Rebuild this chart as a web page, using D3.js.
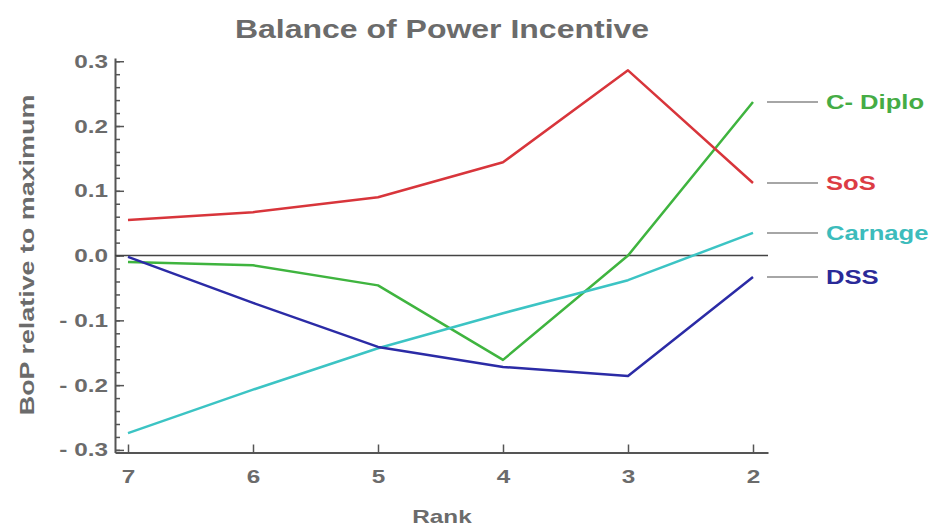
<!DOCTYPE html>
<html>
<head>
<meta charset="utf-8">
<script src="https://cdn.jsdelivr.net/npm/d3@7"></script>
<style>
body { margin: 0; background: #fff; }
text { font-family: "Liberation Sans", Arial, sans-serif; font-weight: bold; }
</style>
</head>
<body>
<div id="chart"></div>
<script>
const ranks = [7, 6, 5, 4, 3, 2]
const sos = [0.055, 0.067, 0.09, 0.144, 0.286, 0.112]
const cDiplo = [-0.01, -0.015, -0.046, -0.161, 0.0, 0.237]
const carnage = [-0.274, -0.207, -0.143, -0.089, -0.038, 0.035]
const dss = [-0.002, -0.073, -0.141, -0.172, -0.186, -0.033]
const seriesNames = ["C- Diplo", "SoS", "Carnage", "DSS"]
const yTicks = [-0.3, -0.2, -0.1, 0, 0.1, 0.2, 0.3]

const width = 932
const height = 530

// the text in the picture is wide, so stretch it sideways
const stretch = 1.28

const series = [
    { name: seriesNames[0], values: cDiplo, color: "#3fb43f", label: "#45ac45" },
    { name: seriesNames[1], values: sos, color: "#d8353b", label: "#dc3c44" },
    { name: seriesNames[2], values: carnage, color: "#3cc4c4", label: "#3cbcbc" },
    { name: seriesNames[3], values: dss, color: "#2b2ba6", label: "#2a2a98" }
]

const svg = d3.select("#chart")
    .append("svg")
    .attr("width", width)
    .attr("height", height)

const x = d3.scaleLinear()
    .domain([7.104, 1.88])
    .range([115, 768])

const y = d3.scaleLinear()
    .domain([-0.304, 0.305])
    .range([452.5, 58])

const axisColor = "#555"
const textColor = "#6b6b6b"

// minor ticks on y
svg.append("g")
    .attr("transform", `translate(${x.range()[0]},0)`)
    .call(d3.axisLeft(y).tickValues(d3.range(-0.3, 0.301, 0.02)).tickSizeInner(-5).tickSizeOuter(0).tickFormat(""))
    .call(g => g.select(".domain").remove())
    .call(g => g.selectAll("line").attr("stroke", axisColor).attr("stroke-width", 1.5))

// y axis
svg.append("g")
    .attr("transform", `translate(${x.range()[0]},0)`)
    .call(d3.axisLeft(y).tickValues(yTicks).tickSizeInner(-9).tickSizeOuter(0).tickPadding(5.5)
        .tickFormat(d => d < -1e-9 ? "- " + Math.abs(d).toFixed(1) : Math.abs(d).toFixed(1)))
    .call(g => g.select(".domain").attr("stroke", axisColor).attr("stroke-width", 2))
    .call(g => g.selectAll("line").attr("stroke", axisColor).attr("stroke-width", 1.5))
    .call(g => g.selectAll("text").attr("fill", textColor).attr("font-size", 19)
        .attr("font-family", "Liberation Sans, Arial, sans-serif").attr("font-weight", "bold")
        .attr("transform", `scale(${stretch},1)`))

// x axis
svg.append("g")
    .attr("transform", `translate(0,${y.range()[0]})`)
    .call(d3.axisBottom(x).tickValues(ranks).tickSizeInner(-8).tickSizeOuter(0).tickPadding(17).tickFormat(d3.format("d")))
    .call(g => g.select(".domain").attr("stroke", axisColor).attr("stroke-width", 2))
    .call(g => g.selectAll("line").attr("stroke", axisColor).attr("stroke-width", 1.5))
    .call(g => g.selectAll("text").attr("fill", textColor).attr("font-size", 19)
        .attr("font-family", "Liberation Sans, Arial, sans-serif").attr("font-weight", "bold")
        .attr("transform", `scale(${stretch},1)`))

// zero line
svg.append("line")
    .attr("x1", x.range()[0])
    .attr("x2", x.range()[1])
    .attr("y1", y(0))
    .attr("y2", y(0))
    .attr("stroke", "#444")
    .attr("stroke-width", 1.5)

const line = d3.line()
    .x((d, i) => x(ranks[i]))
    .y(d => y(d))

svg.selectAll(".series")
    .data(series)
    .enter()
    .append("path")
    .attr("d", d => line(d.values))
    .attr("fill", "none")
    .attr("stroke", d => d.color)
    .attr("stroke-width", 2.5)
    .attr("stroke-linejoin", "round")

// labels with connectors
const last = ranks.length - 1
svg.selectAll(".conn")
    .data(series)
    .enter()
    .append("line")
    .attr("x1", x(ranks[last]) + 14)
    .attr("x2", x(ranks[last]) + 65)
    .attr("y1", d => y(d.values[last]))
    .attr("y2", d => y(d.values[last]))
    .attr("stroke", "#888")
    .attr("stroke-width", 1.5)

svg.selectAll(".lab")
    .data(series)
    .enter()
    .append("text")
    .attr("transform", d => `translate(${x(ranks[last]) + 73},${y(d.values[last])}) scale(${stretch},1)`)
    .attr("dy", "0.35em")
    .attr("fill", d => d.label)
    .attr("font-size", 20)
    .text(d => d.name)

svg.append("text")
    .attr("transform", `translate(442,38) scale(${stretch},1)`)
    .attr("text-anchor", "middle")
    .attr("fill", textColor)
    .attr("font-size", 25)
    .text("Balance of Power Incentive")

svg.append("text")
    .attr("transform", `translate(34,255) rotate(-90) scale(${stretch},1)`)
    .attr("text-anchor", "middle")
    .attr("fill", textColor)
    .attr("font-size", 21)
    .text("BoP relative to maximum")

svg.append("text")
    .attr("transform", `translate(442,523) scale(${stretch},1)`)
    .attr("text-anchor", "middle")
    .attr("fill", textColor)
    .attr("font-size", 19)
    .text("Rank")
</script>
</body>
</html>
